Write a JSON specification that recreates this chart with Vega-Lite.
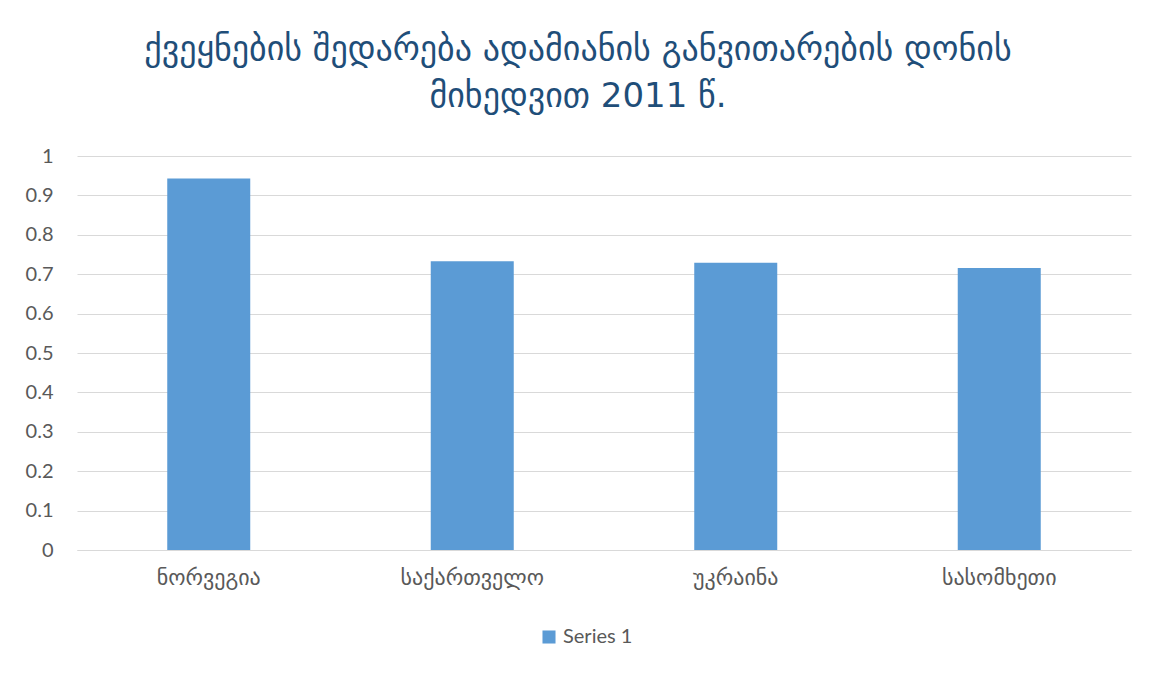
{
  "$schema": "https://vega.github.io/schema/vega-lite/v6.json",
  "autosize": {"type": "none"},
  "width": 1054,
  "height": 394,
  "padding": {"left": 77, "top": 156, "right": 26, "bottom": 124},
  "background": "white",
  "title": {
    "text": ["ქვეყნების შედარება ადამიანის განვითარების დონის", "მიხედვით 2011 წ."],
    "font": "DejaVu Sans",
    "fontSize": 34,
    "fontWeight": "normal",
    "color": "#1F4E79",
    "lineHeight": 47,
    "anchor": "middle",
    "frame": "group",
    "dx": -26,
    "offset": 32
  },
  "data": {
    "values": [
      {"country": "ნორვეგია", "value": 0.943, "series": "Series 1"},
      {"country": "საქართველო", "value": 0.733, "series": "Series 1"},
      {"country": "უკრაინა", "value": 0.729, "series": "Series 1"},
      {"country": "სასომხეთი", "value": 0.716, "series": "Series 1"}
    ]
  },
  "mark": {"type": "bar", "color": "#5B9BD5"},
  "encoding": {
    "x": {
      "field": "country",
      "type": "nominal",
      "sort": null,
      "scale": {"paddingInner": 0.685, "paddingOuter": 0.3425},
      "axis": {
        "title": null,
        "labelAngle": 0,
        "labelFont": "DejaVu Sans",
        "labelFontSize": 22,
        "labelColor": "#595959",
        "labelPadding": 17,
        "ticks": false,
        "domainColor": "#D9D9D9",
        "domainWidth": 1,
        "grid": false
      }
    },
    "y": {
      "field": "value",
      "type": "quantitative",
      "scale": {"domain": [0, 1], "nice": false},
      "axis": {
        "title": null,
        "values": [0, 0.1, 0.2, 0.3, 0.4, 0.5, 0.6, 0.7, 0.8, 0.9, 1],
        "format": "~g",
        "labelFont": "Lato",
        "labelFontSize": 20,
        "labelColor": "#595959",
        "labelPadding": 24,
        "ticks": false,
        "domain": false,
        "grid": true,
        "gridColor": "#D9D9D9",
        "gridWidth": 1
      }
    },
    "fill": {
      "field": "series",
      "type": "nominal",
      "scale": {"range": ["#5B9BD5"]},
      "legend": {
        "title": null,
        "orient": "none",
        "legendX": 462,
        "legendY": 471,
        "symbolType": "square",
        "symbolSize": 170,
        "labelFont": "Lato",
        "labelFontSize": 20,
        "labelColor": "#595959"
      }
    }
  },
  "config": {"view": {"stroke": null}}
}
